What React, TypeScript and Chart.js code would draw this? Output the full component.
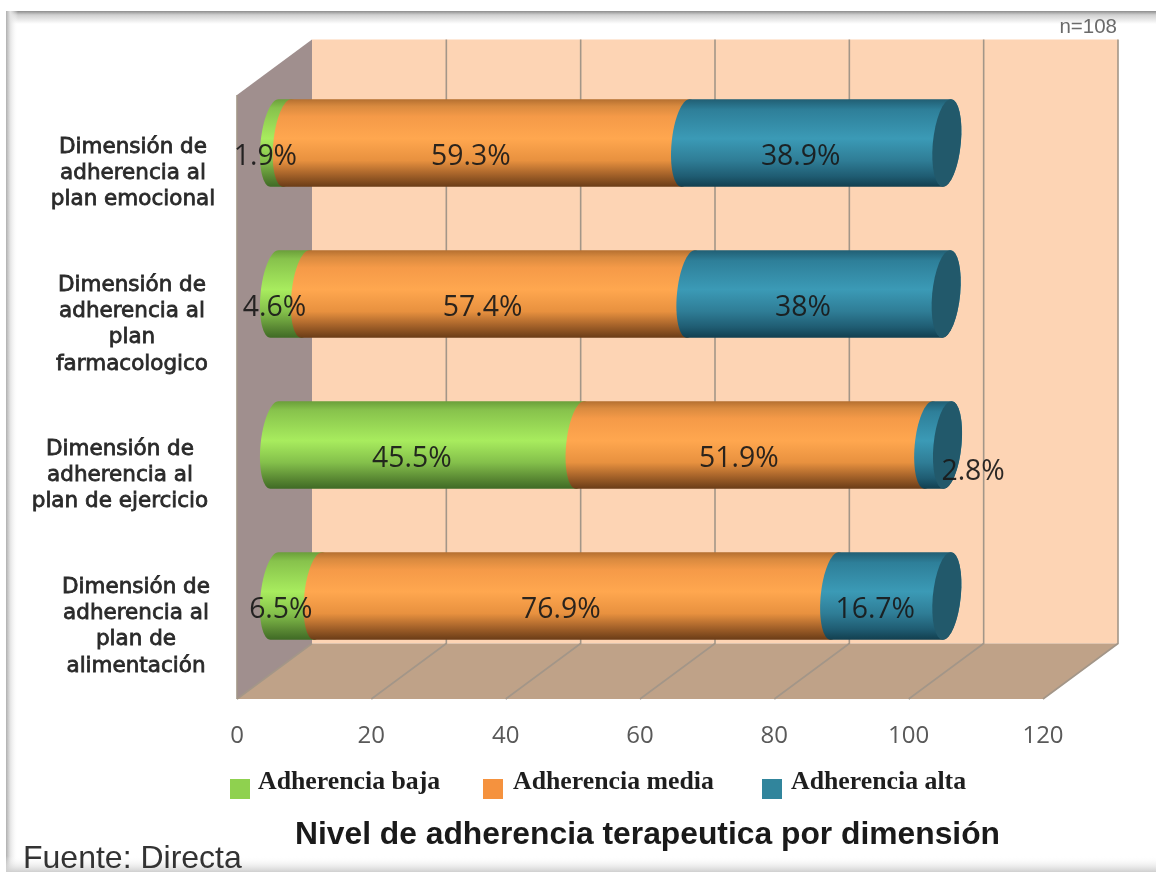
import React, { useEffect, useRef } from "react";
import { Chart, registerables } from "chart.js";

Chart.register(...registerables);

const categories = [
  ["Dimensión de", "adherencia al", "plan emocional"],
  ["Dimensión de", "adherencia al", "plan", "farmacologico"],
  ["Dimensión de", "adherencia al", "plan de ejercicio"],
  ["Dimensión de", "adherencia al", "plan de", "alimentación"],
];
const adherenciaBaja = [1.9, 4.6, 45.5, 6.5];
const adherenciaMedia = [59.3, 57.4, 51.9, 76.9];
const adherenciaAlta = [38.9, 38, 2.8, 16.7];
const xTicks = [0, 20, 40, 60, 80, 100, 120];

const W = 1156;
const H = 872;
const DEPTH_X = 75;
const DEPTH_Y = 55.5;
const RX = 14;
const SHEAR = 4;
const catCenters = [133, 132, 120, 136];

const ramps: Record<string, [number, string][]> = {
  green: [[0, "#6a9e3a"], [0.1, "#87c24c"], [0.45, "#a8ec5e"], [0.7, "#84c04b"], [0.88, "#5b8a34"], [1, "#3f6a25"]],
  orange: [[0, "#b46f30"], [0.08, "#d98a3f"], [0.2, "#f59a48"], [0.45, "#ffa74f"], [0.7, "#e8913f"], [0.85, "#a9652b"], [1, "#6a3c17"]],
  blue: [[0, "#215e73"], [0.12, "#2e7f99"], [0.45, "#3b9ab6"], [0.7, "#2f7d96"], [0.88, "#1f5c72"], [1, "#123f4f"]],
};
const rampNames = ["green", "orange", "blue"];

function ellipseArc(ctx: CanvasRenderingContext2D, cx: number, cy: number, ry: number, from: number, to: number) {
  const n = 32;
  for (let i = 0; i <= n; i++) {
    const t = from + ((to - from) * i) / n;
    const s = Math.sin(t);
    ctx.lineTo(cx + RX * Math.cos(t) - SHEAR * s, cy + ry * s);
  }
}

const scene = {
  id: "scene",
  beforeDraw(chart: any) {
    const { ctx } = chart;
    const x = chart.scales.x;
    const a = chart.chartArea;
    ctx.save();
    ctx.fillStyle = "#ffffff";
    ctx.fillRect(0, 0, W, H);
    let g = ctx.createLinearGradient(0, 11, 0, 24);
    g.addColorStop(0, "#8c8c8c");
    g.addColorStop(0.3, "#d0d0d0");
    g.addColorStop(1, "#ffffff");
    ctx.fillStyle = g;
    ctx.fillRect(7, 11, W - 7, 13);
    g = ctx.createLinearGradient(6, 0, 18, 0);
    g.addColorStop(0, "#b0b0b0");
    g.addColorStop(0.35, "#e4e4e4");
    g.addColorStop(1, "rgba(255,255,255,0)");
    ctx.fillStyle = g;
    ctx.fillRect(6, 11, 12, H - 11);
    g = ctx.createLinearGradient(0, 856, 0, H);
    g.addColorStop(0, "rgba(255,255,255,0)");
    g.addColorStop(1, "#cfcfcf");
    ctx.fillStyle = g;
    ctx.fillRect(6, 856, W - 6, H - 856);

    const l = a.left;
    const r = a.right;
    const t = a.top;
    const b = a.bottom;
    ctx.fillStyle = "#fdd4b4";
    ctx.fillRect(l + DEPTH_X, t - DEPTH_Y, r - l, b - t);
    ctx.fillStyle = "#a08f8e";
    ctx.beginPath();
    ctx.moveTo(l, t);
    ctx.lineTo(l + DEPTH_X, t - DEPTH_Y);
    ctx.lineTo(l + DEPTH_X, b - DEPTH_Y);
    ctx.lineTo(l, b);
    ctx.closePath();
    ctx.fill();
    ctx.fillStyle = "#bfa288";
    ctx.beginPath();
    ctx.moveTo(l, b);
    ctx.lineTo(l + DEPTH_X, b - DEPTH_Y);
    ctx.lineTo(r + DEPTH_X, b - DEPTH_Y);
    ctx.lineTo(r, b);
    ctx.closePath();
    ctx.fill();
    ctx.strokeStyle = "#a39688";
    ctx.lineWidth = 1.6;
    for (const v of xTicks) {
      const px = x.getPixelForValue(v);
      ctx.beginPath();
      if (v > 0) {
        ctx.moveTo(px + DEPTH_X, t - DEPTH_Y);
        ctx.lineTo(px + DEPTH_X, b - DEPTH_Y);
      } else {
        ctx.moveTo(px + DEPTH_X, b - DEPTH_Y);
      }
      ctx.lineTo(px, b);
      ctx.stroke();
    }
    ctx.beginPath();
    ctx.moveTo(l, t);
    ctx.lineTo(l, b);
    ctx.stroke();
    ctx.restore();
  },
  beforeDatasetDraw() {
    return false;
  },
  afterDatasetsDraw(chart: any) {
    const { ctx } = chart;
    const metas = chart.getSortedVisibleDatasetMetas().slice().sort((p: any, q: any) => p.index - q.index);
    const dx = DEPTH_X / 2;
    const dy = -27.5;
    ctx.save();
    metas.forEach((meta: any, di: number) => {
      meta.data.forEach((el: any) => {
        const p = el.getProps(["x", "y", "base", "height"], true);
        const x0 = p.base + dx;
        const x1 = p.x + dx;
        const cy = p.y + dy;
        const ry = p.height / 2;
        const g = ctx.createLinearGradient(0, cy - ry, 0, cy + ry);
        ramps[rampNames[di]].forEach(([o, c]) => g.addColorStop(o, c));
        ctx.beginPath();
        ellipseArc(ctx, x1, cy, ry, -Math.PI / 2, Math.PI / 2);
        ellipseArc(ctx, x0, cy, ry, Math.PI / 2, (3 * Math.PI) / 2);
        ctx.closePath();
        ctx.fillStyle = g;
        ctx.fill();
        if (di === metas.length - 1) {
          ctx.beginPath();
          ellipseArc(ctx, x1, cy, ry, 0, Math.PI * 2);
          ctx.closePath();
          ctx.fillStyle = "#22596b";
          ctx.fill();
        }
      });
    });
    // value labels
    ctx.textAlign = "center";
    ctx.textBaseline = "middle";
    ctx.font = "28.4px 'Open Sans'";
    ctx.fillStyle = "rgba(25,25,25,0.92)";
    metas.forEach((meta: any, di: number) => {
      meta.data.forEach((el: any, i: number) => {
        const p = el.getProps(["x", "y", "base", "height"], true);
        const value = chart.data.datasets[meta.index].data[i];
        const moved = di === 2 && value === adherenciaAlta[2];
        const lx = (p.x + p.base) / 2 + dx - RX - 1.5 + (moved ? 50.5 : 0);
        const ly = p.y + dy + 14 + (moved ? 13 : 0);
        ctx.fillText(value + "%", lx, ly);
      });
    });
    ctx.restore();
  },
  afterDraw(chart: any) {
    const { ctx } = chart;
    const y = chart.scales.y;
    ctx.save();
    ctx.textBaseline = "middle";
    // category labels
    ctx.textAlign = "center";
    ctx.fillStyle = "#2a2a2a";
    ctx.strokeStyle = "#2a2a2a";
    ctx.lineWidth = 0.8;
    ctx.font = "21.5px 'DejaVu Sans'";
    const lh = 26.3;
    chart.data.labels.forEach((lines: string[], i: number) => {
      const cy = y.getPixelForValue(i) + 3;
      lines.forEach((s, j) => {
        const ty = cy + (j - (lines.length - 1) / 2) * lh;
        ctx.fillText(s, catCenters[i], ty);
        ctx.strokeText(s, catCenters[i], ty);
      });
    });
    // legend
    ctx.textAlign = "left";
    const squares = [230, 483, 762];
    const texts = [258, 513, 791];
    ctx.font = "bold 25.8px 'Liberation Serif'";
    chart.data.datasets.forEach((d: any, i: number) => {
      ctx.fillStyle = d.backgroundColor;
      ctx.fillRect(squares[i], 779, 20, 20);
      ctx.fillStyle = "#1e1e1e";
      ctx.fillText(d.label, texts[i], 782);
    });
    // titles
    ctx.fillStyle = "#1a1a1a";
    ctx.font = "bold 31.8px 'Liberation Sans'";
    ctx.textAlign = "center";
    ctx.fillText("Nivel de adherencia terapeutica por dimensión", 647.5, 835);
    ctx.textAlign = "left";
    ctx.fillStyle = "#333333";
    ctx.font = "32px 'Liberation Sans'";
    ctx.fillText("Fuente: Directa", 23, 859);
    ctx.fillStyle = "#6a6a6a";
    ctx.font = "20.5px 'Liberation Sans'";
    ctx.textAlign = "right";
    ctx.fillText("n=108", 1117, 27);
    ctx.restore();
  },
};

export default function App() {
  const ref = useRef<HTMLCanvasElement>(null);
  useEffect(() => {
    const chart = new Chart(ref.current!, {
      type: "bar",
      data: {
        labels: categories as any,
        datasets: [
          { label: "Adherencia baja", data: adherenciaBaja, backgroundColor: "#8fd14f" },
          { label: "Adherencia media", data: adherenciaMedia, backgroundColor: "#f5923e" },
          { label: "Adherencia alta", data: adherenciaAlta, backgroundColor: "#31859c" },
        ],
      },
      options: {
        indexAxis: "y",
        responsive: false,
        animation: false,
        layout: { padding: { left: 237, right: 113, top: 95, bottom: 0 } },
        datasets: { bar: { barPercentage: 1, categoryPercentage: 0.58 } },
        plugins: { legend: { display: false }, title: { display: false }, tooltip: { enabled: false } },
        scales: {
          x: {
            stacked: true,
            min: 0,
            max: 120,
            afterFit(s: any) { s.height = 173; },
            afterBuildTicks(s: any) { s.ticks = xTicks.map((value) => ({ value })); },
            grid: { display: false },
            border: { display: false },
            ticks: { color: "#595959", font: { family: "'Open Sans'", size: 24 }, padding: 15, maxRotation: 0, autoSkip: false },
          },
          y: { stacked: true, display: false },
        },
      } as any,
      plugins: [scene],
    });
    return () => chart.destroy();
  }, []);
  return (
    <div style={{ position: "absolute", left: 0, top: 0, width: W, height: H }}>
      <canvas ref={ref} width={W} height={H} style={{ display: "block", filter: "blur(0.7px)" }} />
    </div>
  );
}
